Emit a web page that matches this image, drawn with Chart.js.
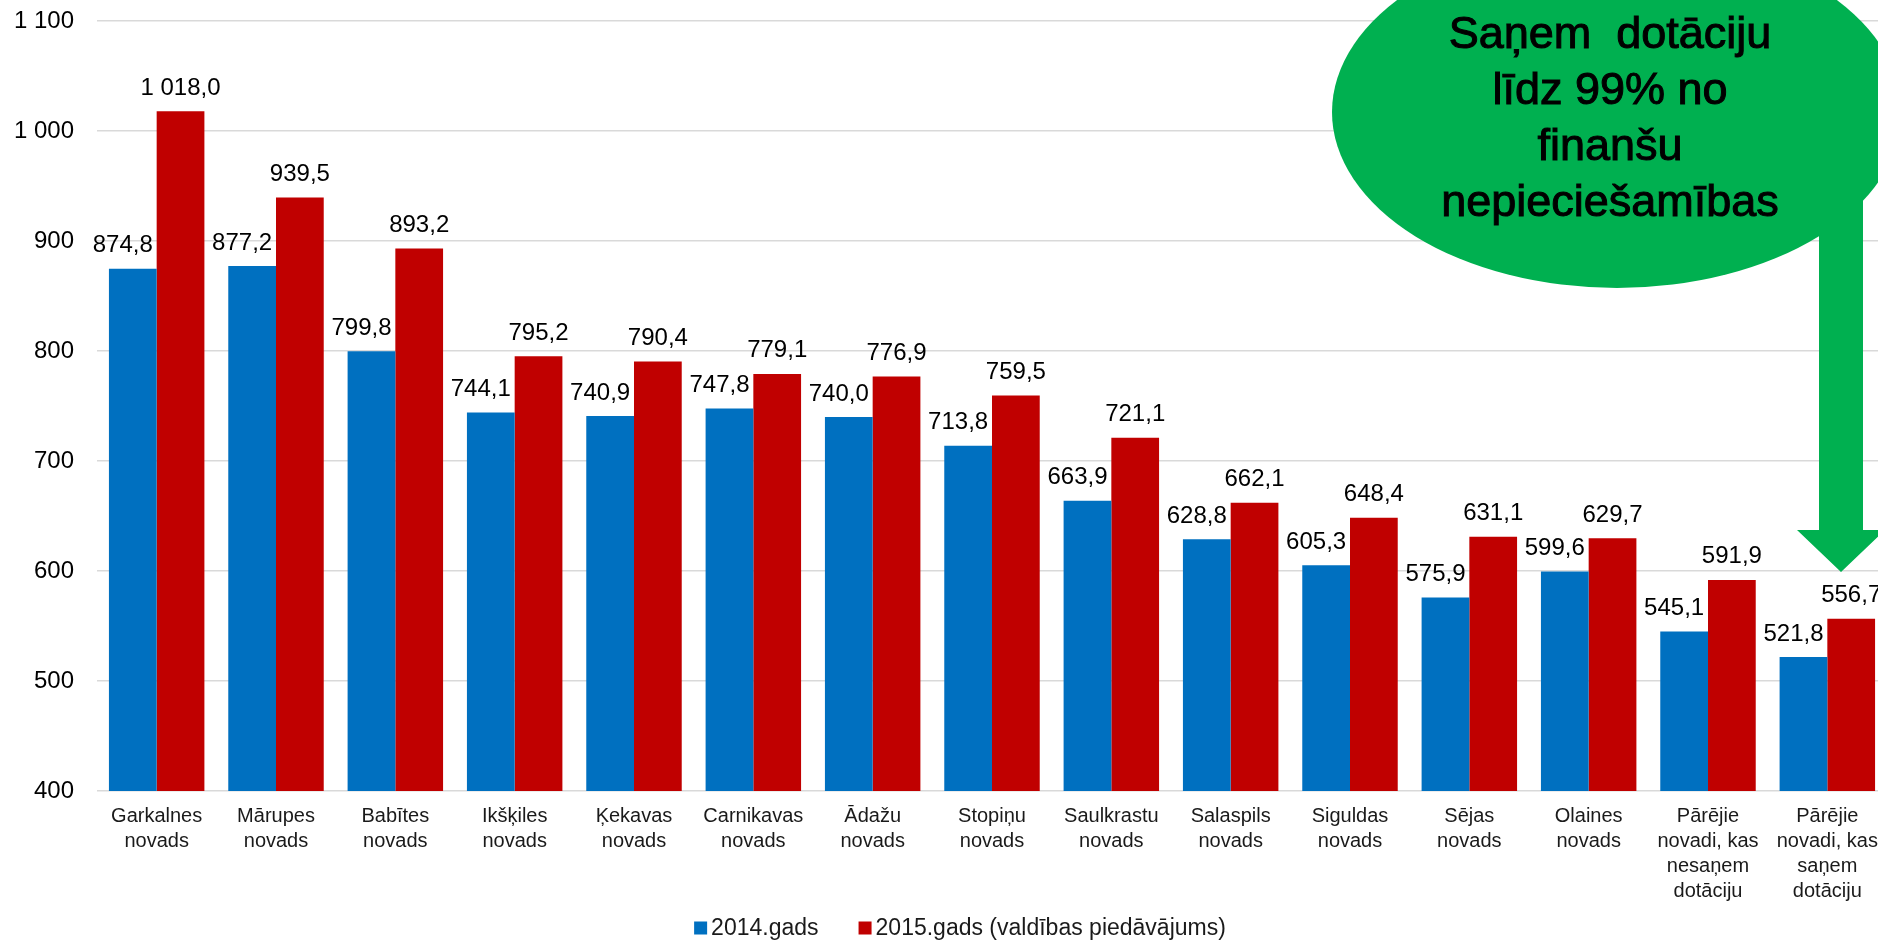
<!DOCTYPE html>
<html>
<head>
<meta charset="utf-8">
<script src="https://cdn.jsdelivr.net/npm/chart.js@4/dist/chart.umd.min.js"></script>
<style>
  html, body { margin: 0; padding: 0; background: #fff; overflow: hidden; }
  #wrap { position: absolute; left: 0; top: 0; width: 1890px; height: 942px; }
</style>
</head>
<body>
<div id="wrap"><canvas id="chart"></canvas></div>
<script>
// Municipalities (two-line labels, last two groups four lines)
var categories = [
  ['Garkalnes', 'novads'],
  ['Mārupes', 'novads'],
  ['Babītes', 'novads'],
  ['Ikšķiles', 'novads'],
  ['Ķekavas', 'novads'],
  ['Carnikavas', 'novads'],
  ['Ādažu', 'novads'],
  ['Stopiņu', 'novads'],
  ['Saulkrastu', 'novads'],
  ['Salaspils', 'novads'],
  ['Siguldas', 'novads'],
  ['Sējas', 'novads'],
  ['Olaines', 'novads'],
  ['Pārējie', 'novadi, kas', 'nesaņem', 'dotāciju'],
  ['Pārējie', 'novadi, kas', 'saņem', 'dotāciju']
];

var values2014 = [874.8, 877.2, 799.8, 744.1, 740.9, 747.8, 740.0, 713.8, 663.9, 628.8, 605.3, 575.9, 599.6, 545.1, 521.8];
var values2015 = [1018.0, 939.5, 893.2, 795.2, 790.4, 779.1, 776.9, 759.5, 721.1, 662.1, 648.4, 631.1, 629.7, 591.9, 556.7];

var seriesNames = ['2014.gads', '2015.gads (valdības piedāvājums)'];
var seriesColors = ['#0070C0', '#C00000'];

var yMin = 400;
var yMax = 1100;
var yStep = 100;

var calloutLines = ['Saņem  dotāciju', 'līdz 99% no', 'finanšu', 'nepieciešamības'];

var FONT = '"Liberation Sans", Arial, sans-serif';

// 1018.0 -> "1 018,0"
function fmt(v, decimals) {
  var parts = v.toFixed(decimals).split('.');
  var whole = parts[0].replace(/\B(?=(\d{3})+(?!\d))/g, ' ');
  return parts.length > 1 ? whole + ',' + parts[1] : whole;
}

// value above each bar, 2014 labels nudged a bit to the left
var valueLabels = {
  id: 'valueLabels',
  afterDatasetsDraw: function(chart) {
    var ctx = chart.ctx;
    ctx.save();
    ctx.font = '24px ' + FONT;
    ctx.fillStyle = '#000';
    ctx.textAlign = 'center';
    ctx.textBaseline = 'alphabetic';
    chart.data.datasets.forEach(function(ds, i) {
      var meta = chart.getDatasetMeta(i);
      var shift = i === 0 ? -10 : 0;
      meta.data.forEach(function(bar, j) {
        ctx.fillText(fmt(ds.data[j], 1), bar.x + shift, bar.y - 16.5);
      });
    });
    ctx.restore();
  }
};

// legend row under the axis labels
var bottomLegend = {
  id: 'bottomLegend',
  afterDraw: function(chart) {
    var ctx = chart.ctx;
    var items = chart.data.datasets;
    var box = 13, gap = 4, spacing = 40;
    ctx.save();
    ctx.font = '23px ' + FONT;
    ctx.textBaseline = 'middle';
    ctx.textAlign = 'left';
    var widths = items.map(function(ds) {
      return box + gap + ctx.measureText(ds.label).width;
    });
    var total = widths.reduce(function(a, b) { return a + b; }, 0) + spacing * (items.length - 1);
    var x = 960 - total / 2;
    var y = 928;
    items.forEach(function(ds, i) {
      ctx.fillStyle = ds.backgroundColor;
      ctx.fillRect(x, y - box / 2, box, box);
      ctx.fillStyle = '#1a1a1a';
      ctx.fillText(ds.label, x + box + gap, y + 1);
      x += widths[i] + spacing;
    });
    ctx.restore();
  }
};

// green speech bubble with the arrow down to the last group
var callout = {
  id: 'callout',
  afterDraw: function(chart) {
    var ctx = chart.ctx;
    ctx.save();
    ctx.fillStyle = '#00B050';
    ctx.beginPath();
    ctx.ellipse(1617, 112, 285, 176, 0, 0, Math.PI * 2);
    ctx.fill();

    ctx.beginPath();
    ctx.moveTo(1819, 150);
    ctx.lineTo(1863, 150);
    ctx.lineTo(1863, 530);
    ctx.lineTo(1885, 530);
    ctx.lineTo(1841, 572);
    ctx.lineTo(1797, 530);
    ctx.lineTo(1819, 530);
    ctx.closePath();
    ctx.fill();

    ctx.font = '45px ' + FONT;
    ctx.textAlign = 'center';
    ctx.textBaseline = 'alphabetic';
    ctx.fillStyle = '#000';
    ctx.strokeStyle = '#000';
    ctx.lineWidth = 1;
    var baselines = [48, 104, 160, 216];
    calloutLines.forEach(function(line, i) {
      ctx.fillText(line, 1610, baselines[i]);
      ctx.strokeText(line, 1610, baselines[i]);
    });
    ctx.restore();
  }
};

var chart = new Chart(document.getElementById('chart'), {
  type: 'bar',
  data: {
    labels: categories,
    datasets: [
      {
        label: seriesNames[0],
        data: values2014,
        backgroundColor: seriesColors[0],
        barPercentage: 1,
        categoryPercentage: 0.8
      },
      {
        label: seriesNames[1],
        data: values2015,
        backgroundColor: seriesColors[1],
        barPercentage: 1,
        categoryPercentage: 0.8
      }
    ]
  },
  options: {
    responsive: true,
    maintainAspectRatio: false,
    animation: false,
    layout: {
      padding: { left: 14, right: 3, top: 21, bottom: 0 }
    },
    plugins: {
      legend: { display: false },
      tooltip: { enabled: false }
    },
    scales: {
      x: {
        grid: { display: false },
        border: { display: false },
        ticks: {
          color: '#1a1a1a',
          font: { family: FONT, size: 20, lineHeight: 1.25 },
          padding: 5,
          maxRotation: 0,
          autoSkip: false
        },
        // room for the four-line labels plus the legend row
        afterFit: function(scale) { scale.height = 151; }
      },
      y: {
        min: yMin,
        max: yMax,
        grid: { color: '#d9d9d9', lineWidth: 1.5, drawTicks: false },
        border: { display: false },
        ticks: {
          stepSize: yStep,
          padding: 23,
          color: '#000',
          font: { family: FONT, size: 24 },
          callback: function(v) { return fmt(v, 0); }
        },
        afterFit: function(scale) {
          scale.width = 83;
          scale.paddingTop = 0;
          scale.paddingBottom = 0;
        }
      }
    }
  },
  plugins: [valueLabels, bottomLegend, callout]
});
</script>
</body>
</html>
